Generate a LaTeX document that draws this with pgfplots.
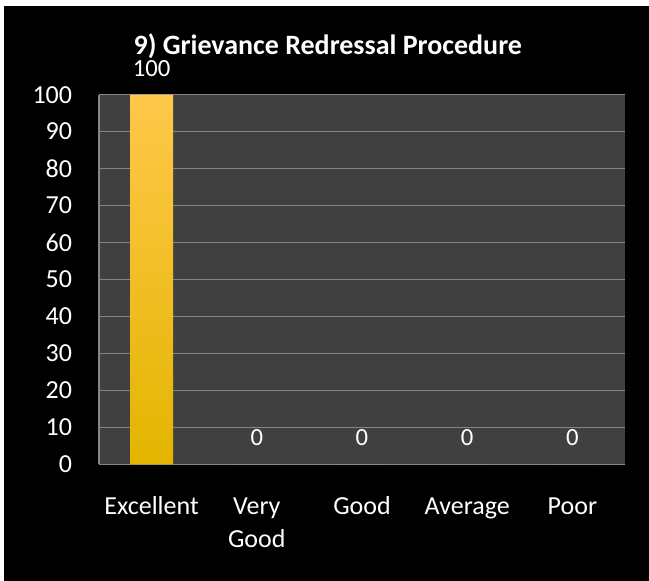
\documentclass[border=0pt]{standalone}
\usepackage{fontspec}
\setmainfont{Carlito}
\usepackage{pgfplots}
\pgfplotsset{compat=1.18}

\definecolor{plotbg}{HTML}{404040}
\definecolor{gridc}{HTML}{858585}
\definecolor{bartop}{HTML}{FFC84A}
\definecolor{barmid}{HTML}{FFC000}
\definecolor{barbot}{HTML}{E3B500}

% two-line tick label whose baseline is the first line
\newcommand\twoline[2]{\begin{tabular}[t]{@{}c@{}}#1\\#2\end{tabular}}

\begin{document}
\begin{tikzpicture}
  % chart area: white margin at top/left, black fill elsewhere
  \begin{scope}[x=0.75pt, y=-0.75pt]
    \path[use as bounding box, fill=white] (0,0) rectangle (649,581);
    \fill[black] (4,6) rectangle (649,581);
  \end{scope}

  \begin{axis}[
      at={(74.25pt,-348.2pt)},
      anchor=south west,
      scale only axis,
      width=394.5pt,
      height=277.2pt,
      /pgf/number format/assume math mode=true,
      ybar,
      bar width=32.25pt,
      xmin=-0.5, xmax=4.5,
      ymin=0, ymax=100,
      xtick=data,
      xticklabels={Excellent, \twoline{Very}{Good}, Good, Average, Poor},
      ytick={0,10,...,100},
      major tick length=0pt,
      axis x line*=bottom,
      axis y line*=left,
      axis line style={gridc, line width=0.9pt, -},
      axis background/.style={fill=plotbg},
      ymajorgrids=true,
      grid style={gridc, line width=0.9pt},
      tick label style={white, font=\fontsize{19.5}{24.75}\selectfont},
      yticklabel style={anchor=east, inner sep=0pt, xshift=-20pt},
      xticklabel style={anchor=base, inner sep=0pt, yshift=-37.5pt},
      title={9) Grievance Redressal Procedure},
      % the default title style already shifts it up by 6pt
      title style={white, font=\bfseries\fontsize{21}{24}\selectfont,
        at={(axis description cs:0.435,1.110)}, anchor=base, inner sep=0pt,
        yshift=-6pt},
      nodes near coords,
      every node near coord/.append style={white, anchor=base, inner sep=0pt,
        yshift=14pt, font=\fontsize{18.5}{22}\selectfont},
      clip=false,
    ]
    \addplot[draw=none, top color=bartop, middle color=barmid, bottom color=barbot]
    coordinates {
        (0, 100)
        (1, 0)
        (2, 0)
        (3, 0)
        (4, 0)
      };
  \end{axis}
\end{tikzpicture}
\end{document}
